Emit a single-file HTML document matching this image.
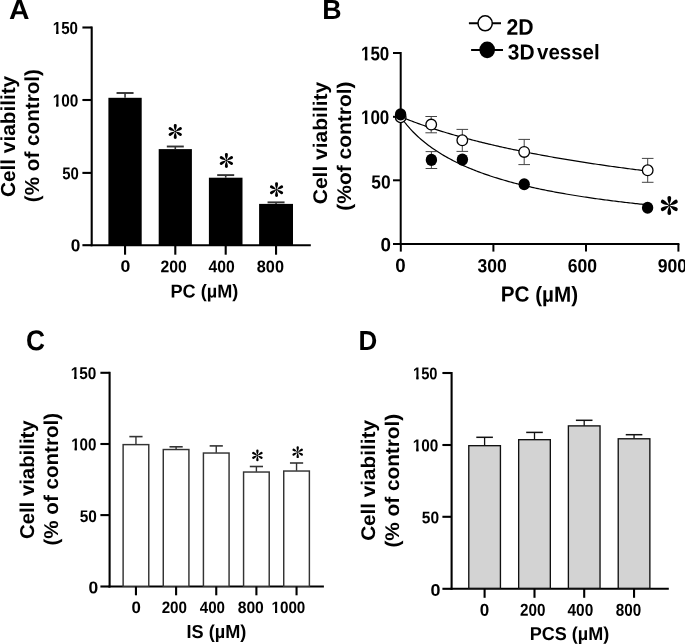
<!DOCTYPE html>
<html><head><meta charset="utf-8"><style>
html,body{margin:0;padding:0;background:#fff;}
body{width:685px;height:644px;overflow:hidden;}
svg{display:block;will-change:transform;}
text{font-family:"Liberation Sans",sans-serif;font-weight:bold;fill:#000;text-rendering:geometricPrecision;}
</style></head><body>
<svg width="685" height="644" viewBox="0 0 685 644">
<rect width="685" height="644" fill="#fff"/>
<text font-size="27.5" transform="translate(8.89 19) rotate(0.05) scale(1.0312 1)">A</text>
<line x1="91.7" y1="26.5" x2="91.7" y2="246.2" stroke="#000" stroke-width="2.1" stroke-linecap="butt"/>
<line x1="82.4" y1="27.5" x2="91.7" y2="27.5" stroke="#000" stroke-width="2.1" stroke-linecap="butt"/>
<line x1="82.4" y1="100" x2="91.7" y2="100" stroke="#000" stroke-width="2.1" stroke-linecap="butt"/>
<line x1="82.4" y1="172.9" x2="91.7" y2="172.9" stroke="#000" stroke-width="2.1" stroke-linecap="butt"/>
<line x1="82.4" y1="245.2" x2="91.7" y2="245.2" stroke="#000" stroke-width="2.1" stroke-linecap="butt"/>
<line x1="90.7" y1="245.2" x2="310.8" y2="245.2" stroke="#000" stroke-width="2.1" stroke-linecap="butt"/>
<g transform="translate(52.75 34.03) rotate(0.05) scale(0.8675 1)"><text font-size="17.46">150</text><rect x="-1.28" y="-2.56" width="5.34" height="3.84" fill="#fff"/><rect x="6.49" y="-2.56" width="3.57" height="3.84" fill="#fff"/><rect x="4.07" y="-2.73" width="2.4" height="2.73" fill="#000"/></g>
<g transform="translate(52.64 106.43) rotate(0.05) scale(0.8822 1)"><text font-size="17.46">100</text><rect x="-1.28" y="-2.56" width="5.34" height="3.84" fill="#fff"/><rect x="6.49" y="-2.56" width="3.57" height="3.84" fill="#fff"/><rect x="4.07" y="-2.73" width="2.4" height="2.73" fill="#000"/></g>
<text font-size="17.17" transform="translate(62.31 179.23) rotate(0.05) scale(0.8699 1)">50</text>
<text font-size="17.31" transform="translate(70.71 251.33) rotate(0.05) scale(0.9970 1)">0</text>
<rect x="108.4" y="97.8" width="33.3" height="147.4" fill="#000"/>
<line x1="125.05" y1="97.8" x2="125.05" y2="93" stroke="#333" stroke-width="1.6" stroke-linecap="butt"/>
<line x1="116.55" y1="93" x2="133.55" y2="93" stroke="#333" stroke-width="1.9" stroke-linecap="butt"/>
<line x1="125.05" y1="245.2" x2="125.05" y2="254.7" stroke="#000" stroke-width="2.1" stroke-linecap="butt"/>
<rect x="158.7" y="149.1" width="33.2" height="96.1" fill="#000"/>
<line x1="175.3" y1="149.1" x2="175.3" y2="146.5" stroke="#333" stroke-width="1.6" stroke-linecap="butt"/>
<line x1="166.8" y1="146.5" x2="183.8" y2="146.5" stroke="#333" stroke-width="1.9" stroke-linecap="butt"/>
<line x1="175.3" y1="245.2" x2="175.3" y2="254.7" stroke="#000" stroke-width="2.1" stroke-linecap="butt"/>
<rect x="208.9" y="177.7" width="33.6" height="67.5" fill="#000"/>
<line x1="225.7" y1="177.7" x2="225.7" y2="175.1" stroke="#333" stroke-width="1.6" stroke-linecap="butt"/>
<line x1="217.2" y1="175.1" x2="234.2" y2="175.1" stroke="#333" stroke-width="1.9" stroke-linecap="butt"/>
<line x1="225.7" y1="245.2" x2="225.7" y2="254.7" stroke="#000" stroke-width="2.1" stroke-linecap="butt"/>
<rect x="259.1" y="203.9" width="33.9" height="41.3" fill="#000"/>
<line x1="276.05" y1="203.9" x2="276.05" y2="202.35" stroke="#333" stroke-width="1.6" stroke-linecap="butt"/>
<line x1="267.55" y1="202.35" x2="284.55" y2="202.35" stroke="#333" stroke-width="1.9" stroke-linecap="butt"/>
<line x1="276.05" y1="245.2" x2="276.05" y2="254.7" stroke="#000" stroke-width="2.1" stroke-linecap="butt"/>
<g transform="translate(175.25 131.5) scale(7.450)" fill="#000"><path d="M0 0 C-0.07 -0.25 -0.2 -0.48 -0.2 -0.8 A0.2 0.2 0 1 1 0.2 -0.8 C0.2 -0.48 0.07 -0.25 0 0Z" transform="rotate(0)"/><path d="M0 0 C-0.07 -0.25 -0.2 -0.48 -0.2 -0.8 A0.2 0.2 0 1 1 0.2 -0.8 C0.2 -0.48 0.07 -0.25 0 0Z" transform="rotate(60)"/><path d="M0 0 C-0.07 -0.25 -0.2 -0.48 -0.2 -0.8 A0.2 0.2 0 1 1 0.2 -0.8 C0.2 -0.48 0.07 -0.25 0 0Z" transform="rotate(120)"/><path d="M0 0 C-0.07 -0.25 -0.2 -0.48 -0.2 -0.8 A0.2 0.2 0 1 1 0.2 -0.8 C0.2 -0.48 0.07 -0.25 0 0Z" transform="rotate(180)"/><path d="M0 0 C-0.07 -0.25 -0.2 -0.48 -0.2 -0.8 A0.2 0.2 0 1 1 0.2 -0.8 C0.2 -0.48 0.07 -0.25 0 0Z" transform="rotate(240)"/><path d="M0 0 C-0.07 -0.25 -0.2 -0.48 -0.2 -0.8 A0.2 0.2 0 1 1 0.2 -0.8 C0.2 -0.48 0.07 -0.25 0 0Z" transform="rotate(300)"/><circle r="0.11"/></g>
<g transform="translate(226.4 160.45) scale(7.450)" fill="#000"><path d="M0 0 C-0.07 -0.25 -0.2 -0.48 -0.2 -0.8 A0.2 0.2 0 1 1 0.2 -0.8 C0.2 -0.48 0.07 -0.25 0 0Z" transform="rotate(0)"/><path d="M0 0 C-0.07 -0.25 -0.2 -0.48 -0.2 -0.8 A0.2 0.2 0 1 1 0.2 -0.8 C0.2 -0.48 0.07 -0.25 0 0Z" transform="rotate(60)"/><path d="M0 0 C-0.07 -0.25 -0.2 -0.48 -0.2 -0.8 A0.2 0.2 0 1 1 0.2 -0.8 C0.2 -0.48 0.07 -0.25 0 0Z" transform="rotate(120)"/><path d="M0 0 C-0.07 -0.25 -0.2 -0.48 -0.2 -0.8 A0.2 0.2 0 1 1 0.2 -0.8 C0.2 -0.48 0.07 -0.25 0 0Z" transform="rotate(180)"/><path d="M0 0 C-0.07 -0.25 -0.2 -0.48 -0.2 -0.8 A0.2 0.2 0 1 1 0.2 -0.8 C0.2 -0.48 0.07 -0.25 0 0Z" transform="rotate(240)"/><path d="M0 0 C-0.07 -0.25 -0.2 -0.48 -0.2 -0.8 A0.2 0.2 0 1 1 0.2 -0.8 C0.2 -0.48 0.07 -0.25 0 0Z" transform="rotate(300)"/><circle r="0.11"/></g>
<g transform="translate(276.55 189.7) scale(7.400)" fill="#000"><path d="M0 0 C-0.07 -0.25 -0.2 -0.48 -0.2 -0.8 A0.2 0.2 0 1 1 0.2 -0.8 C0.2 -0.48 0.07 -0.25 0 0Z" transform="rotate(0)"/><path d="M0 0 C-0.07 -0.25 -0.2 -0.48 -0.2 -0.8 A0.2 0.2 0 1 1 0.2 -0.8 C0.2 -0.48 0.07 -0.25 0 0Z" transform="rotate(60)"/><path d="M0 0 C-0.07 -0.25 -0.2 -0.48 -0.2 -0.8 A0.2 0.2 0 1 1 0.2 -0.8 C0.2 -0.48 0.07 -0.25 0 0Z" transform="rotate(120)"/><path d="M0 0 C-0.07 -0.25 -0.2 -0.48 -0.2 -0.8 A0.2 0.2 0 1 1 0.2 -0.8 C0.2 -0.48 0.07 -0.25 0 0Z" transform="rotate(180)"/><path d="M0 0 C-0.07 -0.25 -0.2 -0.48 -0.2 -0.8 A0.2 0.2 0 1 1 0.2 -0.8 C0.2 -0.48 0.07 -0.25 0 0Z" transform="rotate(240)"/><path d="M0 0 C-0.07 -0.25 -0.2 -0.48 -0.2 -0.8 A0.2 0.2 0 1 1 0.2 -0.8 C0.2 -0.48 0.07 -0.25 0 0Z" transform="rotate(300)"/><circle r="0.11"/></g>
<text font-size="16.4" transform="translate(120.39 271.75) rotate(0.05) scale(1.0786 1)">0</text>
<text font-size="16.96" transform="translate(160.45 272.19) rotate(0.05) scale(0.9293 1)">200</text>
<text font-size="16.96" transform="translate(208.56 272.19) rotate(0.05) scale(0.9287 1)">400</text>
<text font-size="16.96" transform="translate(256.77 272.19) rotate(0.05) scale(0.9611 1)">800</text>
<text font-size="18.62" transform="translate(170.48 297.4) rotate(0.05) scale(0.9735 1)">PC (µM)</text>
<text font-size="20.3" transform="translate(15 196.93) rotate(-89.95) scale(1.0227 1)">Cell viability</text>
<text font-size="20.3" transform="translate(39 202.13) rotate(-89.95) scale(1.0182 1)">(% of control)</text>
<text font-size="27.5" transform="translate(322.2 19) rotate(0.05) scale(0.9717 1)">B</text>
<line x1="400.7" y1="52" x2="400.7" y2="245" stroke="#000" stroke-width="2" stroke-linecap="butt"/>
<line x1="393" y1="53" x2="400.7" y2="53" stroke="#000" stroke-width="2" stroke-linecap="butt"/>
<line x1="393" y1="116.8" x2="400.7" y2="116.8" stroke="#000" stroke-width="2" stroke-linecap="butt"/>
<line x1="393" y1="180.3" x2="400.7" y2="180.3" stroke="#000" stroke-width="2" stroke-linecap="butt"/>
<line x1="393" y1="244" x2="400.7" y2="244" stroke="#000" stroke-width="2" stroke-linecap="butt"/>
<line x1="399.7" y1="244" x2="679.4" y2="244" stroke="#000" stroke-width="2" stroke-linecap="butt"/>
<line x1="400.8" y1="244" x2="400.8" y2="251.6" stroke="#000" stroke-width="2" stroke-linecap="butt"/>
<line x1="493.4" y1="244" x2="493.4" y2="251.6" stroke="#000" stroke-width="2" stroke-linecap="butt"/>
<line x1="586" y1="244" x2="586" y2="251.6" stroke="#000" stroke-width="2" stroke-linecap="butt"/>
<line x1="678.4" y1="244" x2="678.4" y2="251.6" stroke="#000" stroke-width="2" stroke-linecap="butt"/>
<g transform="translate(360.94 60.27) rotate(0.05) scale(0.8714 1)"><text font-size="19.51">150</text><rect x="-1.43" y="-2.86" width="5.96" height="4.29" fill="#fff"/><rect x="7.25" y="-2.86" width="3.99" height="4.29" fill="#fff"/><rect x="4.55" y="-3.05" width="2.68" height="3.05" fill="#000"/></g>
<g transform="translate(360.94 123.97) rotate(0.05) scale(0.8651 1)"><text font-size="19.65">100</text><rect x="-1.44" y="-2.88" width="6.01" height="4.32" fill="#fff"/><rect x="7.3" y="-2.88" width="4.02" height="4.32" fill="#fff"/><rect x="4.59" y="-3.07" width="2.7" height="3.07" fill="#000"/></g>
<text font-size="19.08" transform="translate(371.34 188.38) rotate(0.05) scale(0.9092 1)">50</text>
<text font-size="19.22" transform="translate(380.55 251.21) rotate(0.05) scale(0.9747 1)">0</text>
<text font-size="19.36" transform="translate(395.25 272.08) rotate(0.05) scale(0.9676 1)">0</text>
<text font-size="19.08" transform="translate(477.61 272.18) rotate(0.05) scale(0.9141 1)">300</text>
<text font-size="19.15" transform="translate(567.74 272.23) rotate(0.05) scale(0.9162 1)">600</text>
<text font-size="19.15" transform="translate(657.78 272.23) rotate(0.05) scale(0.9180 1)">900</text>
<text font-size="21.82" transform="translate(500.81 301.6) rotate(0.05) scale(0.9470 1)">PC (µM)</text>
<text font-size="19.8" transform="translate(327 204.24) rotate(-89.95) scale(1.0607 1)">Cell viability</text>
<text font-size="19.8" transform="translate(351 210.65) rotate(-89.95) scale(1.0592 1)">(%of control)</text>
<path d="M400.8,116.67 L402.34,117.35 L403.89,118 L405.43,118.63 L406.97,119.25 L408.52,119.86 L410.06,120.46 L411.6,121.06 L413.15,121.64 L414.69,122.22 L416.23,122.79 L417.78,123.35 L419.32,123.9 L420.86,124.45 L422.41,125 L423.95,125.53 L425.49,126.07 L427.04,126.59 L428.58,127.11 L430.12,127.63 L431.67,128.14 L433.21,128.64 L434.75,129.14 L436.3,129.64 L437.84,130.13 L439.38,130.61 L440.93,131.09 L442.47,131.57 L444.01,132.04 L445.56,132.5 L447.1,132.97 L448.64,133.43 L450.19,133.88 L451.73,134.33 L453.27,134.78 L454.82,135.22 L456.36,135.66 L457.9,136.09 L459.45,136.52 L460.99,136.95 L462.53,137.37 L464.08,137.79 L465.62,138.21 L467.16,138.62 L468.71,139.03 L470.25,139.43 L471.79,139.84 L473.34,140.23 L474.88,140.63 L476.42,141.02 L477.97,141.41 L479.51,141.8 L481.05,142.18 L482.6,142.56 L484.14,142.94 L485.68,143.31 L487.23,143.68 L488.77,144.05 L490.31,144.41 L491.86,144.78 L493.4,145.14 L494.94,145.49 L496.49,145.85 L498.03,146.2 L499.57,146.55 L501.12,146.89 L502.66,147.24 L504.2,147.58 L505.75,147.91 L507.29,148.25 L508.83,148.58 L510.38,148.91 L511.92,149.24 L513.46,149.57 L515.01,149.89 L516.55,150.21 L518.09,150.53 L519.64,150.85 L521.18,151.16 L522.72,151.48 L524.27,151.79 L525.81,152.09 L527.35,152.4 L528.9,152.7 L530.44,153.01 L531.98,153.3 L533.53,153.6 L535.07,153.9 L536.61,154.19 L538.16,154.48 L539.7,154.77 L541.24,155.06 L542.79,155.34 L544.33,155.63 L545.87,155.91 L547.42,156.19 L548.96,156.47 L550.5,156.74 L552.05,157.02 L553.59,157.29 L555.13,157.56 L556.68,157.83 L558.22,158.1 L559.77,158.36 L561.31,158.63 L562.85,158.89 L564.4,159.15 L565.94,159.41 L567.48,159.66 L569.03,159.92 L570.57,160.17 L572.11,160.43 L573.66,160.68 L575.2,160.93 L576.74,161.17 L578.29,161.42 L579.83,161.66 L581.37,161.91 L582.92,162.15 L584.46,162.39 L586,162.63 L587.55,162.86 L589.09,163.1 L590.63,163.33 L592.18,163.57 L593.72,163.8 L595.26,164.03 L596.81,164.26 L598.35,164.49 L599.89,164.71 L601.44,164.94 L602.98,165.16 L604.52,165.38 L606.07,165.6 L607.61,165.82 L609.15,166.04 L610.7,166.26 L612.24,166.47 L613.78,166.69 L615.33,166.9 L616.87,167.11 L618.41,167.32 L619.96,167.53 L621.5,167.74 L623.04,167.95 L624.59,168.16 L626.13,168.36 L627.67,168.56 L629.22,168.77 L630.76,168.97 L632.3,169.17 L633.85,169.37 L635.39,169.57 L636.93,169.76 L638.48,169.96 L640.02,170.16 L641.56,170.35 L643.11,170.54 L644.65,170.73 L646.19,170.92 L647.74,171.11" stroke="#000" stroke-width="1.2" fill="none" />
<path d="M400.8,116.67 L402.34,119.1 L403.89,121.24 L405.43,123.25 L406.97,125.14 L408.52,126.95 L410.06,128.69 L411.6,130.35 L413.15,131.96 L414.69,133.5 L416.23,134.99 L417.78,136.44 L419.32,137.84 L420.86,139.19 L422.41,140.51 L423.95,141.78 L425.49,143.02 L427.04,144.23 L428.58,145.4 L430.12,146.54 L431.67,147.66 L433.21,148.74 L434.75,149.8 L436.3,150.83 L437.84,151.83 L439.38,152.81 L440.93,153.77 L442.47,154.7 L444.01,155.62 L445.56,156.51 L447.1,157.39 L448.64,158.24 L450.19,159.08 L451.73,159.89 L453.27,160.7 L454.82,161.48 L456.36,162.25 L457.9,163 L459.45,163.74 L460.99,164.46 L462.53,165.17 L464.08,165.87 L465.62,166.55 L467.16,167.22 L468.71,167.88 L470.25,168.53 L471.79,169.16 L473.34,169.78 L474.88,170.39 L476.42,170.99 L477.97,171.58 L479.51,172.16 L481.05,172.73 L482.6,173.29 L484.14,173.84 L485.68,174.38 L487.23,174.92 L488.77,175.44 L490.31,175.96 L491.86,176.46 L493.4,176.96 L494.94,177.45 L496.49,177.94 L498.03,178.41 L499.57,178.88 L501.12,179.34 L502.66,179.8 L504.2,180.25 L505.75,180.69 L507.29,181.12 L508.83,181.55 L510.38,181.97 L511.92,182.39 L513.46,182.8 L515.01,183.21 L516.55,183.6 L518.09,184 L519.64,184.39 L521.18,184.77 L522.72,185.15 L524.27,185.52 L525.81,185.89 L527.35,186.25 L528.9,186.61 L530.44,186.96 L531.98,187.31 L533.53,187.65 L535.07,187.99 L536.61,188.33 L538.16,188.66 L539.7,188.99 L541.24,189.31 L542.79,189.63 L544.33,189.94 L545.87,190.25 L547.42,190.56 L548.96,190.86 L550.5,191.16 L552.05,191.46 L553.59,191.75 L555.13,192.04 L556.68,192.33 L558.22,192.61 L559.77,192.89 L561.31,193.17 L562.85,193.44 L564.4,193.71 L565.94,193.98 L567.48,194.24 L569.03,194.5 L570.57,194.76 L572.11,195.02 L573.66,195.27 L575.2,195.52 L576.74,195.77 L578.29,196.01 L579.83,196.26 L581.37,196.5 L582.92,196.73 L584.46,196.97 L586,197.2 L587.55,197.43 L589.09,197.66 L590.63,197.88 L592.18,198.1 L593.72,198.32 L595.26,198.54 L596.81,198.76 L598.35,198.97 L599.89,199.18 L601.44,199.39 L602.98,199.6 L604.52,199.81 L606.07,200.01 L607.61,200.21 L609.15,200.41 L610.7,200.61 L612.24,200.81 L613.78,201 L615.33,201.19 L616.87,201.38 L618.41,201.57 L619.96,201.76 L621.5,201.94 L623.04,202.13 L624.59,202.31 L626.13,202.49 L627.67,202.67 L629.22,202.84 L630.76,203.02 L632.3,203.19 L633.85,203.37 L635.39,203.54 L636.93,203.71 L638.48,203.87 L640.02,204.04 L641.56,204.2 L643.11,204.37 L644.65,204.53 L646.19,204.69 L647.74,204.85" stroke="#000" stroke-width="1.2" fill="none" />
<line x1="431.2" y1="116.5" x2="431.2" y2="132.8" stroke="#444" stroke-width="1" stroke-linecap="butt"/>
<line x1="425.4" y1="116.5" x2="437" y2="116.5" stroke="#444" stroke-width="1" stroke-linecap="butt"/>
<line x1="425.4" y1="132.8" x2="437" y2="132.8" stroke="#444" stroke-width="1" stroke-linecap="butt"/>
<line x1="462.3" y1="129.4" x2="462.3" y2="151.4" stroke="#444" stroke-width="1" stroke-linecap="butt"/>
<line x1="456.5" y1="129.4" x2="468.1" y2="129.4" stroke="#444" stroke-width="1" stroke-linecap="butt"/>
<line x1="456.5" y1="151.4" x2="468.1" y2="151.4" stroke="#444" stroke-width="1" stroke-linecap="butt"/>
<line x1="524.2" y1="139.4" x2="524.2" y2="164.6" stroke="#444" stroke-width="1" stroke-linecap="butt"/>
<line x1="518.4" y1="139.4" x2="530" y2="139.4" stroke="#444" stroke-width="1" stroke-linecap="butt"/>
<line x1="518.4" y1="164.6" x2="530" y2="164.6" stroke="#444" stroke-width="1" stroke-linecap="butt"/>
<line x1="647.7" y1="158.4" x2="647.7" y2="182.3" stroke="#444" stroke-width="1" stroke-linecap="butt"/>
<line x1="641.9" y1="158.4" x2="653.5" y2="158.4" stroke="#444" stroke-width="1" stroke-linecap="butt"/>
<line x1="641.9" y1="182.3" x2="653.5" y2="182.3" stroke="#444" stroke-width="1" stroke-linecap="butt"/>
<line x1="431.4" y1="151.6" x2="431.4" y2="168.5" stroke="#444" stroke-width="1" stroke-linecap="butt"/>
<line x1="425.6" y1="151.6" x2="437.2" y2="151.6" stroke="#444" stroke-width="1" stroke-linecap="butt"/>
<line x1="425.6" y1="168.5" x2="437.2" y2="168.5" stroke="#444" stroke-width="1" stroke-linecap="butt"/>
<ellipse cx="400.7" cy="117.2" rx="5.3" ry="5.35" fill="#fff" stroke="#000" stroke-width="1.3"/>
<ellipse cx="431.2" cy="124.6" rx="5.3" ry="5.35" fill="#fff" stroke="#000" stroke-width="1.3"/>
<ellipse cx="462.3" cy="140.3" rx="5.3" ry="5.35" fill="#fff" stroke="#000" stroke-width="1.3"/>
<ellipse cx="524.2" cy="151.9" rx="5.3" ry="5.35" fill="#fff" stroke="#000" stroke-width="1.3"/>
<ellipse cx="647.7" cy="170.3" rx="5.3" ry="5.35" fill="#fff" stroke="#000" stroke-width="1.3"/>
<ellipse cx="400.6" cy="114.4" rx="5.7" ry="6.05" fill="#000"/>
<ellipse cx="431.4" cy="159.9" rx="5.7" ry="6.05" fill="#000"/>
<ellipse cx="462.4" cy="159.6" rx="5.7" ry="6.05" fill="#000"/>
<ellipse cx="524.2" cy="184.3" rx="5.7" ry="6.05" fill="#000"/>
<ellipse cx="647.6" cy="207.8" rx="5.7" ry="6.05" fill="#000"/>
<g transform="translate(669.3 205.4) scale(9.500)" fill="#000"><path d="M0 0 C-0.07 -0.25 -0.2 -0.48 -0.2 -0.8 A0.2 0.2 0 1 1 0.2 -0.8 C0.2 -0.48 0.07 -0.25 0 0Z" transform="rotate(0)"/><path d="M0 0 C-0.07 -0.25 -0.2 -0.48 -0.2 -0.8 A0.2 0.2 0 1 1 0.2 -0.8 C0.2 -0.48 0.07 -0.25 0 0Z" transform="rotate(60)"/><path d="M0 0 C-0.07 -0.25 -0.2 -0.48 -0.2 -0.8 A0.2 0.2 0 1 1 0.2 -0.8 C0.2 -0.48 0.07 -0.25 0 0Z" transform="rotate(120)"/><path d="M0 0 C-0.07 -0.25 -0.2 -0.48 -0.2 -0.8 A0.2 0.2 0 1 1 0.2 -0.8 C0.2 -0.48 0.07 -0.25 0 0Z" transform="rotate(180)"/><path d="M0 0 C-0.07 -0.25 -0.2 -0.48 -0.2 -0.8 A0.2 0.2 0 1 1 0.2 -0.8 C0.2 -0.48 0.07 -0.25 0 0Z" transform="rotate(240)"/><path d="M0 0 C-0.07 -0.25 -0.2 -0.48 -0.2 -0.8 A0.2 0.2 0 1 1 0.2 -0.8 C0.2 -0.48 0.07 -0.25 0 0Z" transform="rotate(300)"/><circle r="0.11"/></g>
<line x1="468.9" y1="23.3" x2="501" y2="23.3" stroke="#000" stroke-width="2" stroke-linecap="butt"/>
<ellipse cx="485.15" cy="23.3" rx="7.15" ry="7.55" fill="#fff" stroke="#000" stroke-width="1.5"/>
<line x1="471.1" y1="50" x2="503" y2="50" stroke="#000" stroke-width="2" stroke-linecap="butt"/>
<ellipse cx="487.2" cy="49.85" rx="7.85" ry="8.3" fill="#000"/>
<text font-size="22.44" transform="translate(506.41 34.8) rotate(0.05) scale(0.9452 1)">2D</text>
<text font-size="21.83" transform="translate(507.73 59.38) rotate(0.05) scale(0.9596 1)">3D</text>
<text font-size="21.22" transform="translate(537 59.24) rotate(0.05) scale(0.9652 1)">vessel</text>
<text font-size="28.83" transform="translate(26.05 350.18) rotate(0.05) scale(0.9107 1)">C</text>
<line x1="109.6" y1="371.8" x2="109.6" y2="587.5" stroke="#000" stroke-width="2.1" stroke-linecap="butt"/>
<line x1="100.4" y1="372.8" x2="109.6" y2="372.8" stroke="#000" stroke-width="2.1" stroke-linecap="butt"/>
<line x1="100.4" y1="444" x2="109.6" y2="444" stroke="#000" stroke-width="2.1" stroke-linecap="butt"/>
<line x1="100.4" y1="515.1" x2="109.6" y2="515.1" stroke="#000" stroke-width="2.1" stroke-linecap="butt"/>
<line x1="100.4" y1="586.5" x2="109.6" y2="586.5" stroke="#000" stroke-width="2.1" stroke-linecap="butt"/>
<line x1="108.6" y1="586.5" x2="323.9" y2="586.5" stroke="#000" stroke-width="2.1" stroke-linecap="butt"/>
<g transform="translate(70.74 379.09) rotate(0.05) scale(0.9042 1)"><text font-size="17.03">150</text><rect x="-1.25" y="-2.49" width="5.21" height="3.75" fill="#fff"/><rect x="6.33" y="-2.49" width="3.48" height="3.75" fill="#fff"/><rect x="3.98" y="-2.66" width="2.34" height="2.66" fill="#000"/></g>
<g transform="translate(71.15 450.19) rotate(0.05) scale(0.8855 1)"><text font-size="17.17">100</text><rect x="-1.26" y="-2.52" width="5.25" height="3.78" fill="#fff"/><rect x="6.38" y="-2.52" width="3.51" height="3.78" fill="#fff"/><rect x="4.01" y="-2.68" width="2.36" height="2.68" fill="#000"/></g>
<text font-size="16.89" transform="translate(79.8 521.99) rotate(0.05) scale(0.9130 1)">50</text>
<text font-size="17.03" transform="translate(88.5 593.19) rotate(0.05) scale(1.0259 1)">0</text>
<rect x="123.12" y="444.62" width="25.65" height="141.65" fill="#fff" stroke="#333" stroke-width="1.45"/>
<line x1="135.95" y1="444.4" x2="135.95" y2="436.6" stroke="#333" stroke-width="1.4" stroke-linecap="butt"/>
<line x1="129.35" y1="436.6" x2="142.55" y2="436.6" stroke="#333" stroke-width="1.6" stroke-linecap="butt"/>
<rect x="163.27" y="449.53" width="25.65" height="136.75" fill="#fff" stroke="#333" stroke-width="1.45"/>
<line x1="176.1" y1="449.3" x2="176.1" y2="446.8" stroke="#333" stroke-width="1.4" stroke-linecap="butt"/>
<line x1="169.5" y1="446.8" x2="182.7" y2="446.8" stroke="#333" stroke-width="1.6" stroke-linecap="butt"/>
<rect x="203.42" y="453.03" width="25.65" height="133.25" fill="#fff" stroke="#333" stroke-width="1.45"/>
<line x1="216.25" y1="452.8" x2="216.25" y2="445.9" stroke="#333" stroke-width="1.4" stroke-linecap="butt"/>
<line x1="209.65" y1="445.9" x2="222.85" y2="445.9" stroke="#333" stroke-width="1.6" stroke-linecap="butt"/>
<rect x="243.57" y="472.03" width="25.65" height="114.25" fill="#fff" stroke="#333" stroke-width="1.45"/>
<line x1="256.4" y1="471.8" x2="256.4" y2="466.5" stroke="#333" stroke-width="1.4" stroke-linecap="butt"/>
<line x1="249.8" y1="466.5" x2="263" y2="466.5" stroke="#333" stroke-width="1.6" stroke-linecap="butt"/>
<rect x="283.73" y="471.03" width="25.65" height="115.25" fill="#fff" stroke="#333" stroke-width="1.45"/>
<line x1="296.55" y1="470.8" x2="296.55" y2="463" stroke="#333" stroke-width="1.4" stroke-linecap="butt"/>
<line x1="289.95" y1="463" x2="303.15" y2="463" stroke="#333" stroke-width="1.6" stroke-linecap="butt"/>
<line x1="135.95" y1="586.5" x2="135.95" y2="595.3" stroke="#000" stroke-width="2.1" stroke-linecap="butt"/>
<line x1="176.1" y1="586.5" x2="176.1" y2="595.3" stroke="#000" stroke-width="2.1" stroke-linecap="butt"/>
<line x1="216.25" y1="586.5" x2="216.25" y2="595.3" stroke="#000" stroke-width="2.1" stroke-linecap="butt"/>
<line x1="256.4" y1="586.5" x2="256.4" y2="595.3" stroke="#000" stroke-width="2.1" stroke-linecap="butt"/>
<line x1="296.55" y1="586.5" x2="296.55" y2="595.3" stroke="#000" stroke-width="2.1" stroke-linecap="butt"/>
<g transform="translate(257.4 455.4) scale(5.900)" fill="#000"><path d="M0 0 C-0.07 -0.25 -0.2 -0.48 -0.2 -0.8 A0.2 0.2 0 1 1 0.2 -0.8 C0.2 -0.48 0.07 -0.25 0 0Z" transform="rotate(0)"/><path d="M0 0 C-0.07 -0.25 -0.2 -0.48 -0.2 -0.8 A0.2 0.2 0 1 1 0.2 -0.8 C0.2 -0.48 0.07 -0.25 0 0Z" transform="rotate(60)"/><path d="M0 0 C-0.07 -0.25 -0.2 -0.48 -0.2 -0.8 A0.2 0.2 0 1 1 0.2 -0.8 C0.2 -0.48 0.07 -0.25 0 0Z" transform="rotate(120)"/><path d="M0 0 C-0.07 -0.25 -0.2 -0.48 -0.2 -0.8 A0.2 0.2 0 1 1 0.2 -0.8 C0.2 -0.48 0.07 -0.25 0 0Z" transform="rotate(180)"/><path d="M0 0 C-0.07 -0.25 -0.2 -0.48 -0.2 -0.8 A0.2 0.2 0 1 1 0.2 -0.8 C0.2 -0.48 0.07 -0.25 0 0Z" transform="rotate(240)"/><path d="M0 0 C-0.07 -0.25 -0.2 -0.48 -0.2 -0.8 A0.2 0.2 0 1 1 0.2 -0.8 C0.2 -0.48 0.07 -0.25 0 0Z" transform="rotate(300)"/><circle r="0.11"/></g>
<g transform="translate(297.7 452.2) scale(5.900)" fill="#000"><path d="M0 0 C-0.07 -0.25 -0.2 -0.48 -0.2 -0.8 A0.2 0.2 0 1 1 0.2 -0.8 C0.2 -0.48 0.07 -0.25 0 0Z" transform="rotate(0)"/><path d="M0 0 C-0.07 -0.25 -0.2 -0.48 -0.2 -0.8 A0.2 0.2 0 1 1 0.2 -0.8 C0.2 -0.48 0.07 -0.25 0 0Z" transform="rotate(60)"/><path d="M0 0 C-0.07 -0.25 -0.2 -0.48 -0.2 -0.8 A0.2 0.2 0 1 1 0.2 -0.8 C0.2 -0.48 0.07 -0.25 0 0Z" transform="rotate(120)"/><path d="M0 0 C-0.07 -0.25 -0.2 -0.48 -0.2 -0.8 A0.2 0.2 0 1 1 0.2 -0.8 C0.2 -0.48 0.07 -0.25 0 0Z" transform="rotate(180)"/><path d="M0 0 C-0.07 -0.25 -0.2 -0.48 -0.2 -0.8 A0.2 0.2 0 1 1 0.2 -0.8 C0.2 -0.48 0.07 -0.25 0 0Z" transform="rotate(240)"/><path d="M0 0 C-0.07 -0.25 -0.2 -0.48 -0.2 -0.8 A0.2 0.2 0 1 1 0.2 -0.8 C0.2 -0.48 0.07 -0.25 0 0Z" transform="rotate(300)"/><circle r="0.11"/></g>
<text font-size="16.54" transform="translate(131.53 612.98) rotate(0.05) scale(1.0184 1)">0</text>
<text font-size="16.54" transform="translate(161.67 612.98) rotate(0.05) scale(0.9189 1)">200</text>
<text font-size="16.54" transform="translate(199.77 612.98) rotate(0.05) scale(0.9150 1)">400</text>
<text font-size="16.54" transform="translate(237.69 612.98) rotate(0.05) scale(0.9478 1)">800</text>
<g transform="translate(271.45 612.98) rotate(0.05) scale(0.9213 1)"><text font-size="16.54">1000</text><rect x="-1.21" y="-2.42" width="5.05" height="3.64" fill="#fff"/><rect x="6.14" y="-2.42" width="3.38" height="3.64" fill="#fff"/><rect x="3.86" y="-2.58" width="2.27" height="2.58" fill="#000"/></g>
<text font-size="18.76" transform="translate(186.58 638) rotate(0.05) scale(0.9670 1)">IS (µM)</text>
<text font-size="20" transform="translate(34 539.01) rotate(-89.95) scale(1.0164 1)">Cell viability</text>
<text font-size="20" transform="translate(58 545.53) rotate(-89.95) scale(1.0288 1)">(% of control)</text>
<text font-size="27.49" transform="translate(358.45 350) rotate(0.05) scale(0.9443 1)">D</text>
<line x1="451.6" y1="372" x2="451.6" y2="589.9" stroke="#000" stroke-width="2.1" stroke-linecap="butt"/>
<line x1="442.4" y1="373" x2="451.6" y2="373" stroke="#000" stroke-width="2.1" stroke-linecap="butt"/>
<line x1="442.4" y1="445" x2="451.6" y2="445" stroke="#000" stroke-width="2.1" stroke-linecap="butt"/>
<line x1="442.4" y1="516.8" x2="451.6" y2="516.8" stroke="#000" stroke-width="2.1" stroke-linecap="butt"/>
<line x1="442.4" y1="588.8" x2="451.6" y2="588.8" stroke="#000" stroke-width="2.1" stroke-linecap="butt"/>
<line x1="450.6" y1="588.8" x2="668.8" y2="588.8" stroke="#000" stroke-width="2.1" stroke-linecap="butt"/>
<g transform="translate(412.98 379.19) rotate(0.05) scale(0.8665 1)"><text font-size="16.96">150</text><rect x="-1.24" y="-2.48" width="5.18" height="3.73" fill="#fff"/><rect x="6.3" y="-2.48" width="3.47" height="3.73" fill="#fff"/><rect x="3.96" y="-2.65" width="2.33" height="2.65" fill="#000"/></g>
<g transform="translate(412.74 451.19) rotate(0.05) scale(0.8967 1)"><text font-size="17.1">100</text><rect x="-1.25" y="-2.51" width="5.23" height="3.76" fill="#fff"/><rect x="6.35" y="-2.51" width="3.5" height="3.76" fill="#fff"/><rect x="3.99" y="-2.67" width="2.35" height="2.67" fill="#000"/></g>
<text font-size="16.82" transform="translate(421.8 523.19) rotate(0.05) scale(0.9226 1)">50</text>
<text font-size="16.68" transform="translate(430.58 595.79) rotate(0.05) scale(1.0729 1)">0</text>
<rect x="468.78" y="445.68" width="31.65" height="142.65" fill="#d3d3d3" stroke="#111" stroke-width="1.35"/>
<line x1="484.6" y1="445.5" x2="484.6" y2="437.3" stroke="#111" stroke-width="1.3" stroke-linecap="butt"/>
<line x1="476.3" y1="437.3" x2="492.9" y2="437.3" stroke="#111" stroke-width="1.5" stroke-linecap="butt"/>
<line x1="484.6" y1="588.8" x2="484.6" y2="597.8" stroke="#000" stroke-width="2.1" stroke-linecap="butt"/>
<rect x="518.67" y="439.68" width="31.65" height="148.65" fill="#d3d3d3" stroke="#111" stroke-width="1.35"/>
<line x1="534.5" y1="439.5" x2="534.5" y2="432.4" stroke="#111" stroke-width="1.3" stroke-linecap="butt"/>
<line x1="526.2" y1="432.4" x2="542.8" y2="432.4" stroke="#111" stroke-width="1.5" stroke-linecap="butt"/>
<line x1="534.5" y1="588.8" x2="534.5" y2="597.8" stroke="#000" stroke-width="2.1" stroke-linecap="butt"/>
<rect x="568.38" y="425.88" width="31.65" height="162.45" fill="#d3d3d3" stroke="#111" stroke-width="1.35"/>
<line x1="584.2" y1="425.7" x2="584.2" y2="420.3" stroke="#111" stroke-width="1.3" stroke-linecap="butt"/>
<line x1="575.9" y1="420.3" x2="592.5" y2="420.3" stroke="#111" stroke-width="1.5" stroke-linecap="butt"/>
<line x1="584.2" y1="588.8" x2="584.2" y2="597.8" stroke="#000" stroke-width="2.1" stroke-linecap="butt"/>
<rect x="618.22" y="438.78" width="31.65" height="149.55" fill="#d3d3d3" stroke="#111" stroke-width="1.35"/>
<line x1="634.05" y1="438.6" x2="634.05" y2="434.7" stroke="#111" stroke-width="1.3" stroke-linecap="butt"/>
<line x1="625.75" y1="434.7" x2="642.35" y2="434.7" stroke="#111" stroke-width="1.5" stroke-linecap="butt"/>
<line x1="634.05" y1="588.8" x2="634.05" y2="597.8" stroke="#000" stroke-width="2.1" stroke-linecap="butt"/>
<text font-size="17.24" transform="translate(479.72 615.73) rotate(0.05) scale(0.9889 1)">0</text>
<text font-size="17.24" transform="translate(519.97 615.73) rotate(0.05) scale(0.8849 1)">200</text>
<text font-size="17.24" transform="translate(567.47 615.73) rotate(0.05) scale(0.8955 1)">400</text>
<text font-size="17.24" transform="translate(615.8 615.73) rotate(0.05) scale(0.8835 1)">800</text>
<text font-size="18.62" transform="translate(529.68 640) rotate(0.05) scale(0.9691 1)">PCS (µM)</text>
<text font-size="19.8" transform="translate(375 540.83) rotate(-89.95) scale(1.0459 1)">Cell viability</text>
<text font-size="19.8" transform="translate(399 547.54) rotate(-89.95) scale(1.0495 1)">(% of control)</text>
</svg>
</body></html>
